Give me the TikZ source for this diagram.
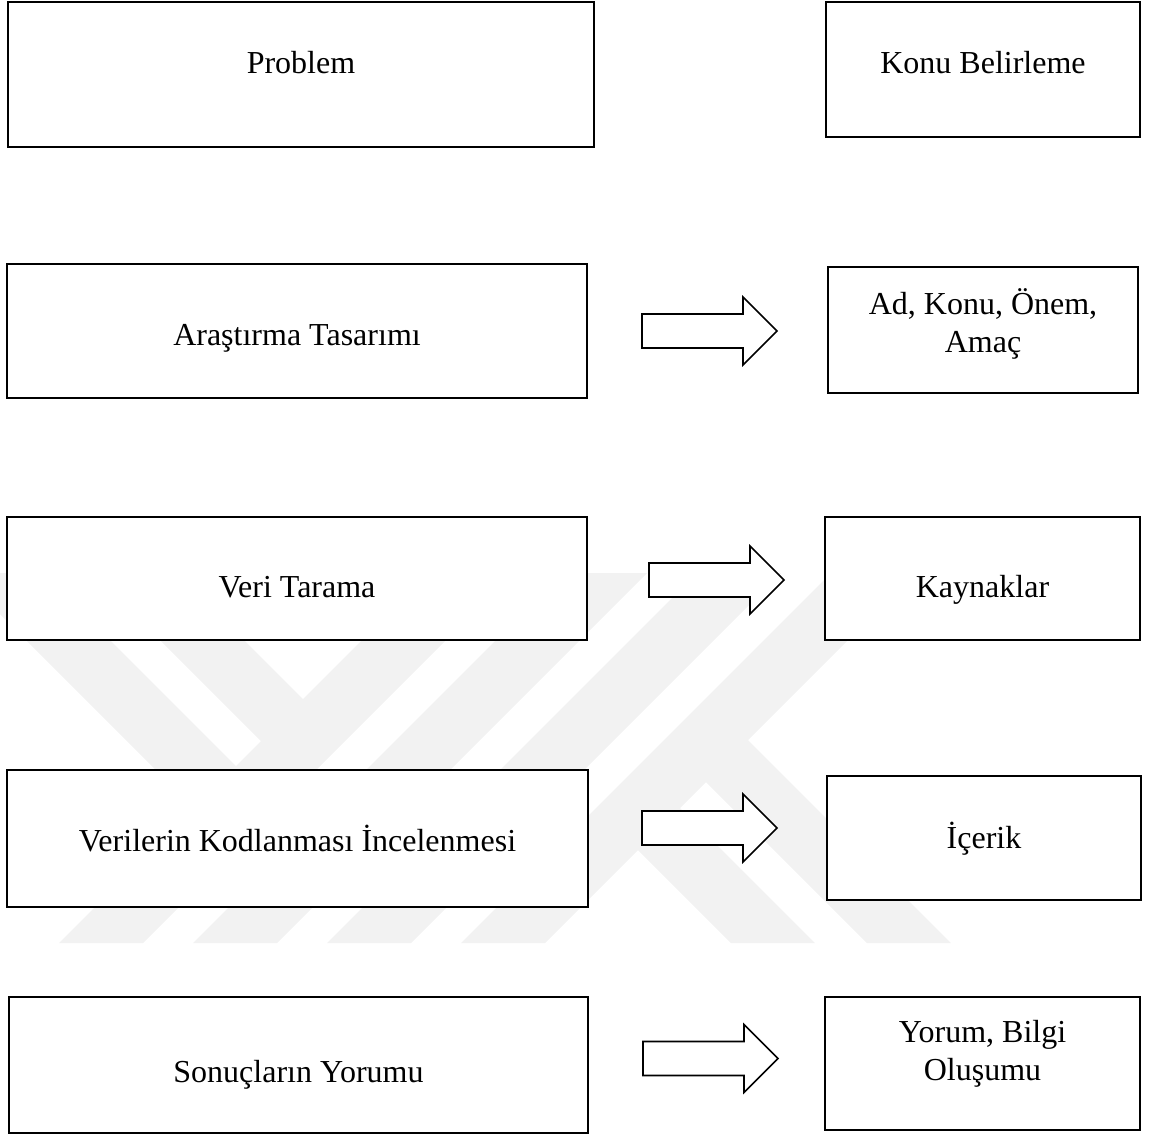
\documentclass[tikz,border=0pt]{standalone}
\usepackage{fontspec}
\setmainfont{Liberation Serif}
\usepackage{tikz}
\tikzset{
  stage/.style={
    draw, fill=white, line width=1.1pt, inner sep=0pt,
    align=center, font=\fontsize{16pt}{19pt}\selectfont
  },
  txt/.style 2 args={text height=#1, text depth=#2},
  fatarrow/.style={draw, fill=white, line width=0.8pt, line join=miter},
  wmark/.style={fill=black!5},
}

\begin{document}
\begin{tikzpicture}[x=0.5pt, y=-0.5pt]
\useasboundingbox (0,0) rectangle (1150,1137);

% Watermark
\fill[wmark] (429,573) -- (513,573) -- (143,943) -- (59,943) -- cycle;
\fill[wmark] (563,573) -- (647,573) -- (277,943) -- (193,943) -- cycle;
\fill[wmark] (697,573) -- (781,573) -- (411,943) -- (327,943) -- cycle;
\fill[wmark] (831,573) -- (915,573) -- (545,943) -- (461,943) -- cycle;
\fill[wmark] (0,573) -- (43,573) -- (257,787) -- (215,829) -- (0,614) -- cycle;
\fill[wmark] (93,573) -- (177,573) -- (324,720) -- (282,762) -- cycle;
\fill[wmark] (659,787) -- (815,943) -- (731,943) -- (617,829) -- cycle;
\fill[wmark] (727,719) -- (951,943) -- (867,943) -- (685,761) -- cycle;

% Left column
\node[stage, minimum width=293pt, minimum height=72.5pt, txt={10pt}{10.9pt}] (prob) at (301,74.5) {Problem};
\node[stage, minimum width=290pt, minimum height=67pt, txt={14.6pt}{0pt}] (tasarim) at (297,331) {Araştırma Tasarımı};
\node[stage, minimum width=290pt, minimum height=61.5pt, txt={18.6pt}{0pt}] (tarama) at (297,578.5) {Veri Tarama};
\node[stage, minimum width=290.5pt, minimum height=68.5pt, txt={12.6pt}{0pt}] (kodlama) at (297.5,838.5) {Verilerin Kodlanması İncelenmesi};
\node[stage, minimum width=289.5pt, minimum height=68pt, txt={17.6pt}{0pt}] (sonuc) at (298.5,1065) {Sonuçların Yorumu};

% Right column
\node[stage, minimum width=157pt, minimum height=67.5pt, txt={10pt}{5.9pt}] (konu) at (983,69.5) {Konu Belirleme};
\node[stage, minimum width=155pt, minimum height=63pt, txt={22.6pt}{0pt}] (amac) at (983,330) {Ad, Konu, Önem,\\Amaç};
\node[stage, minimum width=157.5pt, minimum height=61.5pt, txt={18.6pt}{0pt}] (kaynak) at (982.5,578.5) {Kaynaklar};
\node[stage, minimum width=157pt, minimum height=62pt, txt={10.6pt}{0pt}] (icerik) at (984,838) {İçerik};
\node[stage, minimum width=157.5pt, minimum height=66.5pt, txt={17.1pt}{0pt}] (yorum) at (982.5,1063.5) {Yorum, Bilgi\\Oluşumu};

% Block arrows
\coordinate (a1) at (642,331);
\coordinate (a2) at (649,580);
\coordinate (a3) at (642,828);
\coordinate (a4) at (643,1058.5);
\foreach \a in {a1,a2,a3,a4}
  \draw[fatarrow] (\a) ++(0,-17) -- ++(101,0) -- ++(0,-17) -- ++(34,34)
    -- ++(-34,34) -- ++(0,-17) -- ++(-101,0) -- cycle;
\end{tikzpicture}
\end{document}
